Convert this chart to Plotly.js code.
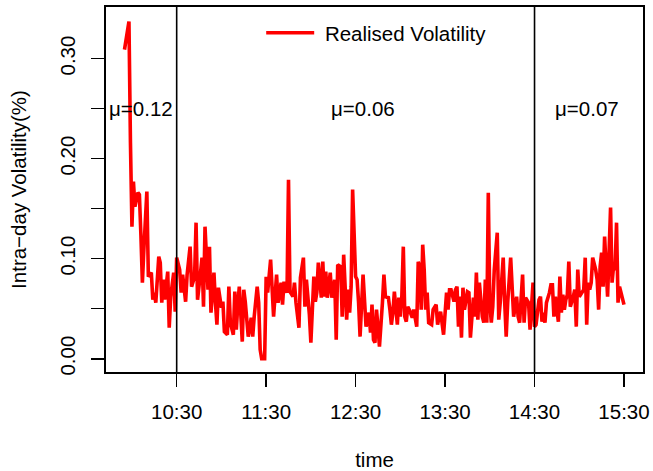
<!DOCTYPE html>
<html>
<head>
<meta charset="utf-8">
<script src="https://cdn.plot.ly/plotly-3.0.1.min.js"></script>
<style>
  html, body { margin: 0; padding: 0; background: #ffffff; }
  #chart { width: 653px; height: 471px; }
</style>
</head>
<body>
<div id="chart"></div>
<script>
// ---- data ----
const startTime = "09:55";            // first observation
const minutes = [0,2,3,4,5,6,7,9,10,11,12,13,15,16,18,19,20,21,23,24,25,26,27,29,30,31,33,34,35,37,38,39,41,42,44,45,47,48,49,51,52,53,54,56,57,58,60,61,62,63,65,66,67,69,70,71,73,74,75,76,77,79,80,81,83,85,86,87,89,90,91,92,94,95,96,98,99,100,102,103,105,106,107,109,110,111,113,114,115,117,118,120,121,122,124,125,127,128,129,130,132,133,134,135,136,138,139,141,142,143,145,146,147,148,149,150,151,152,153,155,156,157,158,160,161,162,164,165,166,167,168,169,170,171,173,174,175,177,178,179,180,181,183,184,185,186,187,188,189,190,191,193,194,195,196,197,198,199,200,201,202,203,204,206,207,209,210,211,212,214,216,217,218,219,221,222,223,224,225,226,227,228,230,231,232,234,235,236,237,238,240,241,242,243,244,245,246,247,248,250,251,252,253,254,255,256,257,259,261,263,264,265,267,268,269,271,272,274,275,276,278,279,280,281,282,283,285,286,287,288,289,291,292,293,294,295,296,297,298,299,301,302,303,304,305,306,308,309,310,311,312,313,314,316,317,318,319,320,321,322,323,324,326,327,328,329,330,331,332,334,335];
const realisedVol = [0.309,0.327,0.337,0.216,0.132,0.177,0.152,0.166,0.164,0.124,0.076,0.109,0.167,0.082,0.086,0.059,0.066,0.056,0.102,0.096,0.056,0.079,0.059,0.087,0.031,0.062,0.086,0.047,0.101,0.089,0.066,0.084,0.057,0.084,0.112,0.072,0.082,0.136,0.059,0.086,0.101,0.052,0.132,0.069,0.112,0.046,0.086,0.056,0.034,0.071,0.051,0.057,0.027,0.024,0.072,0.036,0.024,0.067,0.029,0.054,0.072,0.017,0.069,0.057,0.022,0.041,0.022,0.042,0.072,0.056,0.009,0.000,0.000,0.082,0.066,0.099,0.066,0.042,0.084,0.056,0.076,0.054,0.077,0.066,0.179,0.067,0.062,0.076,0.056,0.031,0.081,0.101,0.052,0.079,0.044,0.016,0.082,0.057,0.066,0.096,0.061,0.097,0.062,0.087,0.061,0.086,0.061,0.079,0.019,0.094,0.092,0.042,0.104,0.069,0.039,0.069,0.046,0.072,0.169,0.082,0.079,0.056,0.022,0.084,0.052,0.032,0.046,0.026,0.054,0.019,0.016,0.049,0.032,0.012,0.056,0.084,0.062,0.061,0.049,0.034,0.046,0.067,0.034,0.061,0.042,0.062,0.112,0.042,0.037,0.052,0.049,0.041,0.049,0.042,0.032,0.097,0.092,0.049,0.114,0.089,0.049,0.066,0.036,0.034,0.049,0.054,0.034,0.042,0.047,0.024,0.066,0.049,0.069,0.069,0.057,0.069,0.072,0.032,0.062,0.021,0.071,0.049,0.067,0.066,0.021,0.061,0.042,0.086,0.039,0.076,0.042,0.036,0.079,0.036,0.166,0.056,0.036,0.052,0.089,0.126,0.039,0.056,0.082,0.101,0.056,0.022,0.056,0.101,0.042,0.062,0.042,0.036,0.084,0.036,0.061,0.056,0.029,0.076,0.032,0.034,0.059,0.062,0.037,0.046,0.036,0.056,0.066,0.074,0.074,0.042,0.062,0.037,0.082,0.046,0.064,0.049,0.059,0.064,0.097,0.052,0.062,0.069,0.032,0.089,0.062,0.064,0.069,0.101,0.034,0.076,0.069,0.076,0.101,0.089,0.079,0.049,0.092,0.106,0.072,0.122,0.092,0.062,0.151,0.076,0.092,0.089,0.136,0.056,0.072,0.057,0.054];
const seriesName = "Realised Volatility";
const breakTimes = ["10:30", "14:30"];
const segmentMeans = [0.12, 0.06, 0.07];
const xTickLabels = ["10:30", "11:30", "12:30", "13:30", "14:30", "15:30"];
const yTickValues = [0.00, 0.05, 0.10, 0.15, 0.20, 0.25, 0.30];
const yTickLabels = ["0.00", "", "0.10", "", "0.20", "", "0.30"];

// ---- helpers ----
const DAY = "2024-01-02 ";
function hm(t) { return DAY + t + ":00"; }
function addMinutes(t, m) {
  const [h, mm] = t.split(":").map(Number);
  const total = h * 60 + mm + m;
  const hh = Math.floor(total / 60), mi = total % 60;
  return DAY + String(hh).padStart(2, "0") + ":" + String(mi).padStart(2, "0") + ":00";
}
const xTimes = minutes.map(m => addMinutes(startTime, m));

// ---- layout constants (positions / styles) ----
const FONT = "Liberation Sans, Arial, Helvetica, sans-serif";
const FS = 20.5;
const labelX = ["10:06:00", "12:35:00", "15:05:00"];
const labelY = 0.25;

const trace = {
  x: xTimes,
  y: realisedVol,
  type: "scatter",
  mode: "lines",
  name: "\u00a0" + seriesName,
  line: { color: "#ff0000", width: 3.6 },
  hoverinfo: "skip"
};

const shapes = breakTimes.map(t => ({
  type: "line", xref: "x", yref: "paper",
  x0: hm(t), x1: hm(t), y0: 0, y1: 1,
  line: { color: "#000000", width: 1.6 }
}));

const annotations = segmentMeans.map((m, i) => ({
  x: DAY + labelX[i], y: labelY, xref: "x", yref: "y",
  text: "\u03bc=" + m.toFixed(2), showarrow: false,
  font: { family: FONT, size: FS, color: "#000000" },
  xanchor: "center", yanchor: "middle"
}));

const layout = {
  width: 653, height: 471,
  margin: { l: 106, r: 10, t: 7, b: 99 },
  paper_bgcolor: "#ffffff", plot_bgcolor: "#ffffff",
  font: { family: FONT, size: FS, color: "#000000" },
  showlegend: true,
  legend: {
    x: 0.289, y: 0.929, xanchor: "left", yanchor: "middle",
    bgcolor: "rgba(0,0,0,0)", borderwidth: 0,
    font: { family: FONT, size: FS, color: "#000000" },
    itemwidth: 48
  },
  xaxis: {
    type: "date",
    range: [DAY + "09:42:36", DAY + "15:42:45"],
    tickvals: xTickLabels.map(hm),
    ticktext: xTickLabels,
    ticks: "outside", ticklen: 13, tickwidth: 1.6, tickcolor: "#000000",
    showline: true, linecolor: "#000000", linewidth: 1.8, mirror: true,
    showgrid: false, zeroline: false,
    tickfont: { family: FONT, size: FS, color: "#000000" },
    ticklabelstandoff: 8,
    title: { text: "time", font: { family: FONT, size: FS, color: "#000000" }, standoff: 38 }
  },
  yaxis: {
    range: [-0.0133, 0.3516],
    tickvals: yTickValues,
    ticktext: yTickLabels,
    tickangle: -90,
    ticks: "outside", ticklen: 13, tickwidth: 1.6, tickcolor: "#000000",
    showline: true, linecolor: "#000000", linewidth: 1.8, mirror: true,
    showgrid: false, zeroline: false,
    tickfont: { family: FONT, size: FS, color: "#000000" },
    ticklabelstandoff: 8,
    title: { text: "Intra\u2212day Volatility(%)", font: { family: FONT, size: FS, color: "#000000" }, standoff: 24 }
  },
  shapes: shapes,
  annotations: annotations
};

Plotly.newPlot("chart", [trace], layout, { displayModeBar: false, staticPlot: true });
</script>
</body>
</html>
